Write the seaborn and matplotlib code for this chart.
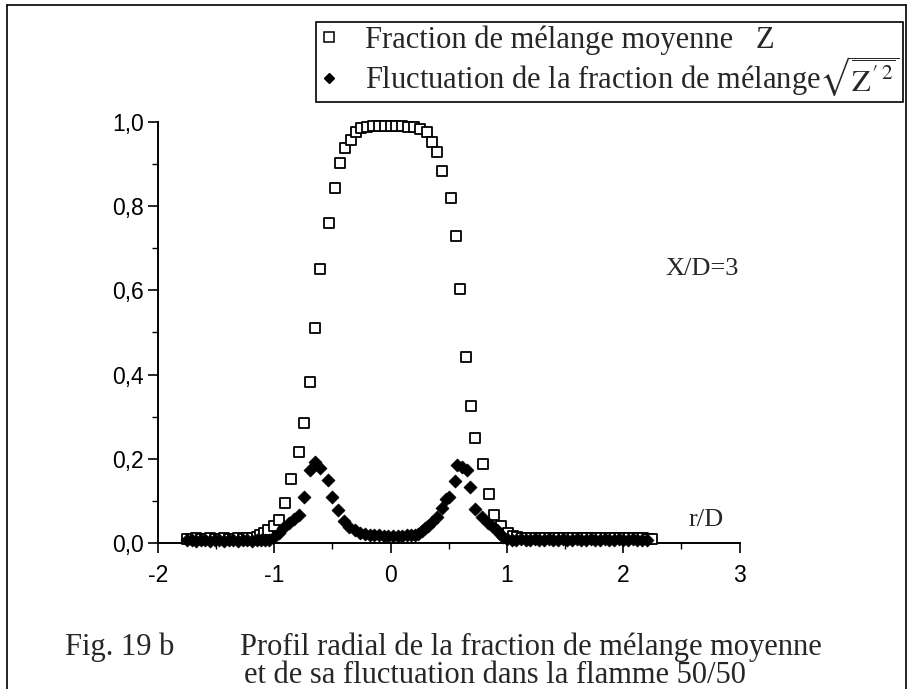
import numpy as np
import pandas as pd
import matplotlib
matplotlib.use("Agg")
import matplotlib.pyplot as plt
import seaborn as sns
from matplotlib.lines import Line2D
from matplotlib.ticker import MultipleLocator, FixedLocator

# mean mixture fraction Z (open squares)
z_mean_r = [-1.75, -1.71, -1.67, -1.63, -1.59, -1.55, -1.51, -1.47, -1.43, -1.39,
            -1.35, -1.31, -1.27, -1.23, -1.19, -1.15, -1.12, -1.09, -1.05, -1.00,
            -0.955, -0.91, -0.856, -0.79, -0.747, -0.695, -0.647, -0.603, -0.532, -0.481,
            -0.435, -0.389, -0.343, -0.298, -0.25, -0.20, -0.15, -0.10, -0.05, 0.0,
            0.05, 0.10, 0.15, 0.20, 0.25, 0.312, 0.36, 0.403, 0.446, 0.518,
            0.561, 0.601, 0.647, 0.689, 0.727, 0.798, 0.85, 0.893, 0.947, 1.01,
            1.05, 1.09, 1.13, 1.17, 1.21, 1.25, 1.29, 1.33, 1.37, 1.41,
            1.45, 1.49, 1.53, 1.57, 1.61, 1.65, 1.69, 1.73, 1.77, 1.81,
            1.85, 1.89, 1.93, 1.97, 2.01, 2.05, 2.09, 2.13, 2.17, 2.21, 2.25]
z_mean = [0.010, 0.010, 0.011, 0.010, 0.010, 0.011, 0.010, 0.010, 0.011, 0.010,
          0.010, 0.011, 0.010, 0.011, 0.012, 0.014, 0.018, 0.024, 0.031, 0.040,
          0.055, 0.096, 0.152, 0.215, 0.286, 0.382, 0.510, 0.650, 0.759, 0.844,
          0.902, 0.939, 0.957, 0.977, 0.985, 0.988, 0.990, 0.990, 0.991, 0.991,
          0.990, 0.990, 0.989, 0.988, 0.983, 0.975, 0.953, 0.928, 0.884, 0.820,
          0.729, 0.603, 0.441, 0.326, 0.250, 0.188, 0.116, 0.066, 0.040, 0.024,
          0.016, 0.013, 0.012, 0.012, 0.011, 0.012, 0.012, 0.011, 0.012, 0.012,
          0.011, 0.012, 0.012, 0.011, 0.012, 0.012, 0.011, 0.012, 0.012, 0.011,
          0.012, 0.012, 0.011, 0.012, 0.012, 0.011, 0.012, 0.012, 0.011, 0.010, 0.010]

# fluctuation sqrt(Z'^2) (filled diamonds)
z_rms_r = [-1.75, -1.71, -1.67, -1.63, -1.59, -1.55, -1.51, -1.47, -1.43, -1.39,
           -1.35, -1.31, -1.27, -1.23, -1.19, -1.15, -1.11, -1.08, -1.047, -1.00,
           -0.961, -0.92, -0.876, -0.83, -0.79, -0.747, -0.69, -0.647, -0.61, -0.54,
           -0.504, -0.452, -0.403, -0.36, -0.303, -0.26, -0.22, -0.18, -0.14, -0.10,
           -0.06, -0.02, 0.02, 0.06, 0.10, 0.14, 0.18, 0.21, 0.24, 0.27,
           0.30, 0.326, 0.36, 0.40, 0.44, 0.48, 0.504, 0.555, 0.569, 0.612,
           0.655, 0.684, 0.727, 0.784, 0.84, 0.88, 0.912, 0.94, 0.97, 1.00,
           1.04, 1.08, 1.12, 1.16, 1.20, 1.24, 1.28, 1.32, 1.36, 1.40,
           1.44, 1.48, 1.52, 1.56, 1.60, 1.64, 1.68, 1.72, 1.76, 1.80,
           1.84, 1.88, 1.92, 1.96, 2.00, 2.04, 2.08, 2.12, 2.16, 2.20]
z_rms = [0.006, 0.006, 0.005, 0.006, 0.006, 0.005, 0.006, 0.006, 0.005, 0.006,
         0.006, 0.005, 0.006, 0.006, 0.005, 0.006, 0.006, 0.006, 0.007, 0.015,
         0.023, 0.035, 0.047, 0.056, 0.066, 0.108, 0.173, 0.193, 0.177, 0.150,
         0.108, 0.078, 0.051, 0.039, 0.031, 0.024, 0.022, 0.020, 0.019, 0.018,
         0.017, 0.016, 0.016, 0.017, 0.017, 0.018, 0.019, 0.019, 0.022, 0.028,
         0.035, 0.040, 0.050, 0.062, 0.082, 0.105, 0.108, 0.146, 0.185, 0.180,
         0.173, 0.134, 0.080, 0.062, 0.047, 0.038, 0.031, 0.022, 0.015, 0.010,
         0.008, 0.008, 0.009, 0.008, 0.008, 0.009, 0.008, 0.008, 0.009, 0.008,
         0.008, 0.009, 0.008, 0.008, 0.009, 0.008, 0.008, 0.009, 0.008, 0.008,
         0.009, 0.008, 0.008, 0.009, 0.008, 0.008, 0.009, 0.008, 0.008, 0.008]

x_ticks = [-2, -1, 0, 1, 2, 3]
y_ticks = [0.0, 0.2, 0.4, 0.6, 0.8, 1.0]
y_tick_labels = ["0,0", "0,2", "0,4", "0,6", "0,8", "1,0"]

label_mean = "Fraction de mélange moyenne   Z"
label_rms = r"Fluctuation de la fraction de mélange$\sqrt{\overline{\mathrm{Z'}^{\,2}}}$"
caption_fig = "Fig. 19 b"
caption_1 = "Profil radial de la fraction de mélange moyenne"
caption_2 = "et de sa fluctuation dans la flamme 50/50"

df_mean = pd.DataFrame({"r": z_mean_r, "v": z_mean})
df_rms = pd.DataFrame({"r": z_rms_r, "v": z_rms})

sns.set_style("ticks")
plt.rcParams["font.family"] = ["Liberation Sans", "DejaVu Sans"]
plt.rcParams["mathtext.fontset"] = "stix"

fig = plt.figure(figsize=(9.12, 6.89), dpi=100)
ax = fig.add_axes([0.173, 0.212, 0.638, 0.611])

sns.scatterplot(data=df_mean, x="r", y="v", ax=ax, marker="s", s=55,
                facecolor="white", edgecolor="black", linewidth=1.3,
                clip_on=False, zorder=3)
sns.scatterplot(data=df_rms, x="r", y="v", ax=ax, marker="D", s=44,
                color="black", edgecolor="black", linewidth=0.5,
                clip_on=False, zorder=4)

ax.set_xlim(-2, 3)
ax.set_ylim(0, 1.0)
ax.xaxis.set_major_locator(FixedLocator(x_ticks))
ax.xaxis.set_minor_locator(MultipleLocator(0.5))
ax.yaxis.set_major_locator(FixedLocator(y_ticks))
ax.yaxis.set_minor_locator(MultipleLocator(0.1))
ax.set_yticklabels(y_tick_labels)
ax.set_xticklabels([str(t) for t in x_ticks])
ax.tick_params(axis="both", which="major", labelsize=16.5, length=7, width=1.2,
               color="black", labelcolor="black", direction="out")
ax.tick_params(axis="x", which="major", pad=8)
ax.tick_params(axis="y", which="major", pad=3)
ax.tick_params(axis="both", which="minor", length=4, width=1.0, color="black")
ax.set_xlabel("")
ax.set_ylabel("")
sns.despine(ax=ax)
for sp in ("left", "bottom"):
    ax.spines[sp].set_linewidth(1.4)
    ax.spines[sp].set_color("black")

serif = ["Liberation Serif", "DejaVu Serif"]
ax.text(2.36, 0.65, "X/D=3", fontsize=19, family=serif, va="center", ha="left")
ax.text(2.56, 0.055, "r/D", fontsize=19, family=serif, va="center", ha="left")

handles = [
    Line2D([], [], marker="s", ls="none", markersize=6.5, markerfacecolor="white",
           markeredgecolor="black", markeredgewidth=1.1),
    Line2D([], [], marker="D", ls="none", markersize=5.5, color="black"),
]
leg = fig.legend(handles, [label_mean, label_rms], loc="upper right",
                 bbox_to_anchor=(0.99, 0.968), frameon=True, fancybox=False,
                 edgecolor="black", framealpha=1, borderpad=0.1,
                 handlelength=0.6, handletextpad=0.9, labelspacing=0.0,
                 borderaxespad=0.0, prop={"family": serif, "size": 22})
leg.get_frame().set_linewidth(1.2)

fig.text(0.071, 0.050, caption_fig, fontsize=22, family=serif, va="baseline")
fig.text(0.263, 0.050, caption_1, fontsize=22, family=serif, va="baseline")
fig.text(0.267, 0.008, caption_2, fontsize=22, family=serif, va="baseline")

# outer frame of the figure page
for xs, ys in [([0.008, 0.993], [0.993, 0.993]), ([0.008, 0.008], [0.0, 0.993]),
               ([0.993, 0.993], [0.0, 0.993])]:
    fig.add_artist(Line2D(xs, ys, color="black", lw=1.2, transform=fig.transFigure))

fig.savefig("out.png", dpi=100)
